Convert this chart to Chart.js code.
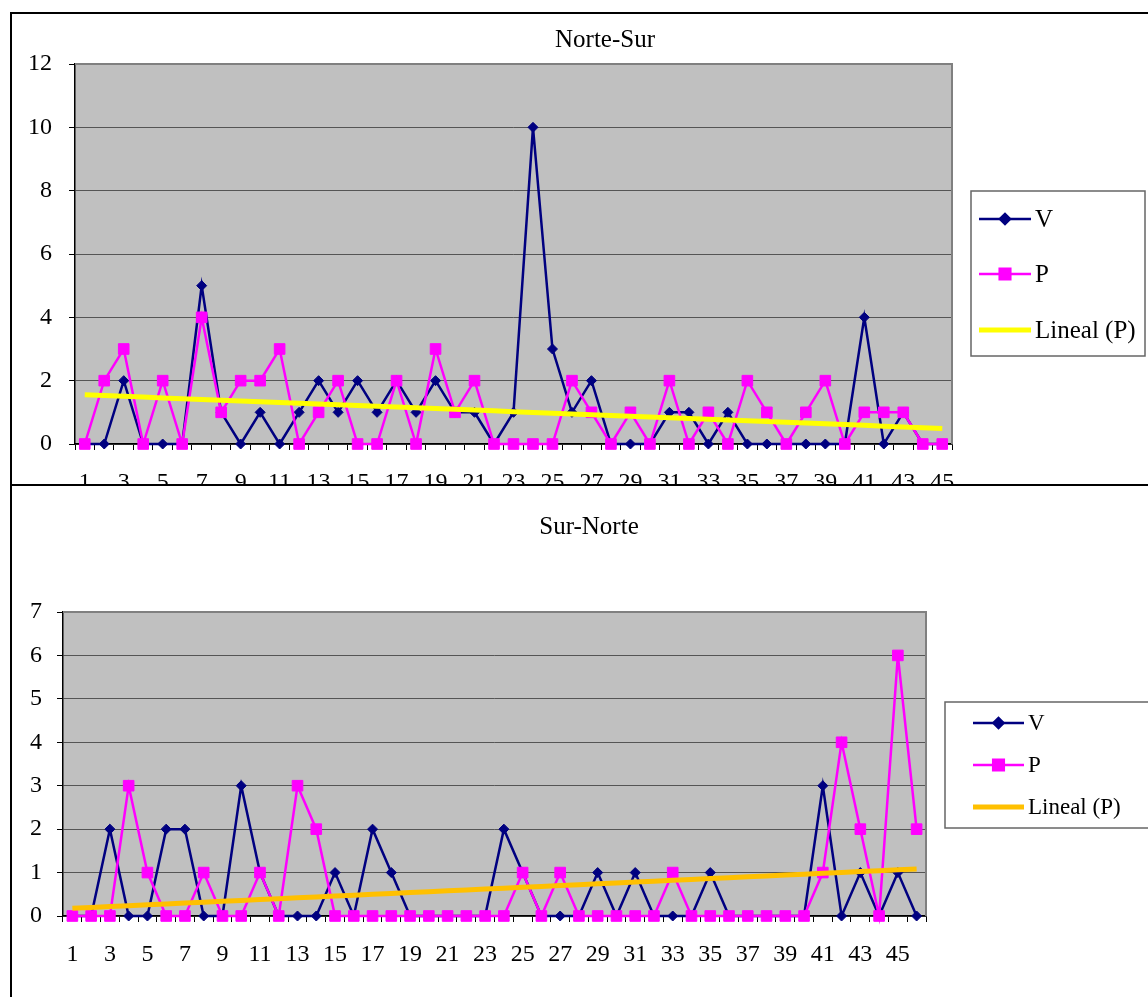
<!DOCTYPE html>
<html lang="es">
<head>
<meta charset="utf-8">
<title>Norte-Sur / Sur-Norte</title>
<script src="https://cdn.jsdelivr.net/npm/chart.js@4.4.1/dist/chart.umd.min.js"></script>
<style>
  html, body { margin: 0; padding: 0; background: #fff; overflow: hidden; width: 1148px; height: 997px; }
  .marco { position: absolute; left: 10px; width: 1300px; height: 600px; border: 2px solid #000; background: #fff; }
  canvas { position: absolute; left: 0; }
</style>
</head>
<body>
<div class="marco" style="top:12px"></div>
<canvas id="graficoNS" width="1148" height="500" style="top:0"></canvas>
<div class="marco" style="top:484px"></div>
<canvas id="graficoSN" width="1148" height="513" style="top:484px"></canvas>
<script>
// datos Norte-Sur
const categoriasNS = ['1','2','3','4','5','6','7','8','9','10','11','12','13','14','15','16','17','18','19','20',
  '21','22','23','24','25','26','27','28','29','30','31','32','33','34','35','36','37','38','39','40',
  '41','42','43','44','45'];
const vNS = [0,0,2,0,0,0,5,1,0,1,0,1,2,1,2,1,2,1,2,1,1,0,1,10,3,1,2,0,0,0,1,1,0,1,0,0,0,0,0,0,4,0,1,0,0];
const pNS = [0,2,3,0,2,0,4,1,2,2,3,0,1,2,0,0,2,0,3,1,2,0,0,0,0,2,1,0,1,0,2,0,1,0,2,1,0,1,2,0,1,1,1,0,0];

// datos Sur-Norte
const categoriasSN = ['1','2','3','4','5','6','7','8','9','10','11','12','13','14','15','16','17','18','19','20',
  '21','22','23','24','25','26','27','28','29','30','31','32','33','34','35','36','37','38','39','40',
  '41','42','43','44','45','46'];
const vSN = [0,0,2,0,0,2,2,0,0,3,1,0,0,0,1,0,2,1,0,0,0,0,0,2,1,0,0,0,1,0,1,0,0,0,1,0,0,0,0,0,3,0,1,0,1,0];
const pSN = [0,0,0,3,1,0,0,1,0,0,1,0,3,2,0,0,0,0,0,0,0,0,0,0,1,0,1,0,0,0,0,0,1,0,0,0,0,0,0,0,1,4,2,0,6,2];

const ticksNS = [0, 2, 4, 6, 8, 10, 12];
const ticksSN = [0, 1, 2, 3, 4, 5, 6, 7];

Chart.defaults.color = '#000';
Chart.defaults.font.family = '"Liberation Serif", "Times New Roman", serif';

// tendencia lineal (minimos cuadrados), como la linea "Lineal (P)" de Excel
function lineal(valores) {
  const n = valores.length;
  const mx = (n + 1) / 2;
  const my = valores.reduce((s, v) => s + v, 0) / n;
  let sxy = 0, sxx = 0;
  valores.forEach((v, i) => { sxy += (i + 1 - mx) * (v - my); sxx += (i + 1 - mx) * (i + 1 - mx); });
  const b = sxy / sxx;
  return valores.map((v, i) => my + b * (i + 1 - mx));
}

const fondoPlot = {
  id: 'fondoPlot',
  beforeDraw(chart) {
    const { ctx, chartArea: a } = chart;
    ctx.save();
    ctx.fillStyle = '#c0c0c0';
    ctx.fillRect(a.left, a.top, a.right - a.left, a.bottom - a.top);
    ctx.restore();
  },
  beforeDatasetsDraw(chart) {
    const { ctx, chartArea: a } = chart;
    ctx.save();
    ctx.strokeStyle = '#808080';
    ctx.lineWidth = 2;
    ctx.beginPath();
    ctx.moveTo(a.left, a.top);
    ctx.lineTo(a.right, a.top);
    ctx.lineTo(a.right, a.bottom);
    ctx.stroke();
    ctx.restore();
  }
};

const tituloFijo = {
  id: 'tituloFijo',
  afterDraw(chart, args, opts) {
    const ctx = chart.ctx;
    ctx.save();
    ctx.font = opts.size + 'px ' + Chart.defaults.font.family;
    ctx.fillStyle = '#000';
    ctx.textAlign = 'center';
    ctx.textBaseline = 'middle';
    ctx.fillText(opts.text, opts.x, opts.y);
    ctx.restore();
  }
};

const leyendaCaja = {
  id: 'leyendaCaja',
  afterDraw(chart, args, opts) {
    const ctx = chart.ctx;
    ctx.save();
    ctx.fillStyle = '#fff';
    ctx.fillRect(opts.x, opts.y, opts.w, opts.h);
    ctx.strokeStyle = '#666';
    ctx.lineWidth = 1.5;
    ctx.strokeRect(opts.x, opts.y, opts.w, opts.h);
    ctx.font = opts.size + 'px ' + Chart.defaults.font.family;
    ctx.textBaseline = 'middle';
    chart.data.datasets.forEach((ds, i) => {
      const fy = opts.filas[i];
      ctx.strokeStyle = ds.borderColor;
      ctx.lineWidth = ds.borderWidth;
      ctx.beginPath();
      ctx.moveTo(opts.x1, fy);
      ctx.lineTo(opts.x2, fy);
      ctx.stroke();
      if (ds.pointRadius > 0) {
        ctx.fillStyle = ds.pointBackgroundColor;
        Chart.helpers.drawPoint(ctx, {
          pointStyle: ds.pointStyle, radius: ds.pointRadius, borderWidth: 1
        }, (opts.x1 + opts.x2) / 2, fy);
        ctx.fill();
      }
      ctx.fillStyle = '#000';
      ctx.fillText(ds.label, opts.textoX, fy + 1);
    });
    ctx.restore();
  }
};

function crearGrafico(id, cfg) {
  return new Chart(document.getElementById(id), {
    type: 'line',
    data: {
      labels: cfg.labels,
      datasets: [
        {
          label: 'V', data: cfg.v, order: 2,
          borderColor: '#000080', backgroundColor: '#000080', borderWidth: 2.5,
          pointStyle: 'rectRot', pointRadius: 5, pointBackgroundColor: '#000080', pointBorderColor: '#000080', pointBorderWidth: 1
        },
        {
          label: 'P', data: cfg.p, order: 1,
          borderColor: '#ff00ff', backgroundColor: '#ff00ff', borderWidth: 2.5,
          pointStyle: 'rect', pointRadius: 7.5, pointBackgroundColor: '#ff00ff', pointBorderColor: '#ff00ff', pointBorderWidth: 1
        },
        {
          label: 'Lineal (P)', data: lineal(cfg.p), order: 0,
          borderColor: cfg.colorTendencia, borderWidth: 5, pointRadius: 0
        }
      ]
    },
    options: {
      responsive: false,
      animation: false,
      events: [],
      clip: false,
      layout: { padding: cfg.padding },
      plugins: {
        legend: { display: false },
        title: { display: false },
        tooltip: { enabled: false },
        tituloFijo: cfg.titulo,
        leyendaCaja: cfg.leyenda
      },
      scales: {
        x: {
          offset: true,
          grid: { offset: true, drawOnChartArea: false, tickLength: 6, tickColor: '#000', tickWidth: 1 },
          border: { color: '#000', width: 1.5 },
          ticks: {
            autoSkip: false, maxRotation: 0, minRotation: 0, padding: cfg.padX,
            font: { size: cfg.tamano },
            callback: function(value, index) { return index % 2 === 0 ? this.getLabelForValue(value) : ''; }
          },
          afterFit: s => { s.height = cfg.altoX; }
        },
        y: {
          min: 0, max: cfg.ticks[cfg.ticks.length - 1],
          afterBuildTicks: s => { s.ticks = cfg.ticks.map(v => ({ value: v })); },
          grid: { color: '#555', lineWidth: 1, tickLength: 6, tickColor: '#000' },
          border: { color: '#000', width: 1.5 },
          ticks: { padding: cfg.padY, font: { size: cfg.tamano } },
          afterFit: s => { s.width = cfg.anchoY; }
        }
      }
    },
    plugins: [fondoPlot, tituloFijo, leyendaCaja]
  });
}

crearGrafico('graficoNS', {
  labels: categoriasNS, v: vNS, p: pNS, ticks: ticksNS, colorTendencia: '#ffff00',
  padding: { left: 0, top: 64, right: 196, bottom: 0 },
  anchoY: 75, altoX: 56, padY: 17, padX: 18, tamano: 24,
  titulo: { text: 'Norte-Sur', x: 605, y: 40, size: 25 },
  leyenda: { x: 971, y: 191, w: 174, h: 165, filas: [219, 274, 330], x1: 979, x2: 1031, textoX: 1035, size: 25 }
});

crearGrafico('graficoSN', {
  labels: categoriasSN, v: vSN, p: pSN, ticks: ticksSN, colorTendencia: '#ffc000',
  padding: { left: 0, top: 128, right: 222, bottom: 0 },
  anchoY: 63, altoX: 81, padY: 15, padX: 18, tamano: 24,
  titulo: { text: 'Sur-Norte', x: 589, y: 43, size: 25 },
  leyenda: { x: 945, y: 218, w: 240, h: 126, filas: [239, 281, 323], x1: 973, x2: 1024, textoX: 1028, size: 23 }
});
</script>
</body>
</html>
